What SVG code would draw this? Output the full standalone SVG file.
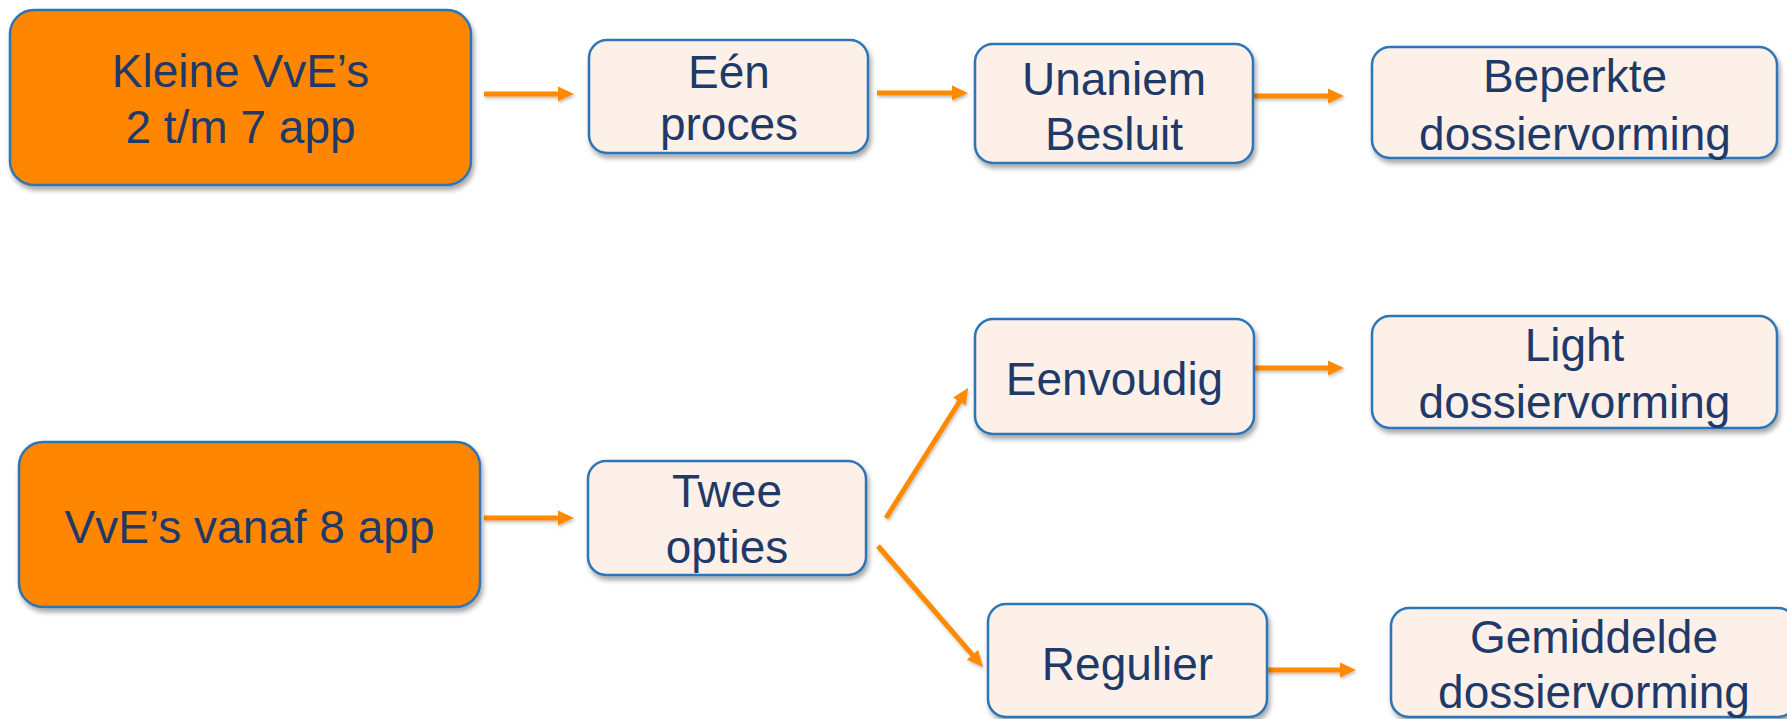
<svg xmlns="http://www.w3.org/2000/svg" width="1787" height="719" viewBox="0 0 1787 719">
  <style>
    .box { fill: #FDF0E9; stroke: #2E74B5; stroke-width: 2.5; filter: url(#shadow); }
    .main { fill: #FF8600; stroke: #2E74B5; stroke-width: 2.5; filter: url(#shadow); }
    .lbl { font-family: "Liberation Sans", Arial, sans-serif; font-size: 46px; fill: #1F3A68; text-anchor: middle; }
    .arrow { stroke: #FF8A00; stroke-width: 5; fill: none; marker-end: url(#head); }
  </style>
  <defs>
    <filter id="shadow" x="-10%" y="-10%" width="120%" height="130%">
      <feDropShadow dx="2" dy="4" stdDeviation="2.5" flood-color="#000" flood-opacity="0.35"/>
    </filter>
    <filter id="ashadow" filterUnits="userSpaceOnUse" x="0" y="0" width="1787" height="719">
      <feDropShadow dx="1" dy="2" stdDeviation="1.5" flood-color="#000" flood-opacity="0.25"/>
    </filter>
    <marker id="head" viewBox="0 0 16 16" markerWidth="16" markerHeight="16" refX="6" refY="8" orient="auto" markerUnits="userSpaceOnUse">
      <path d="M0,0.5 L16,8 L0,15.5 z" fill="#FF8A00"/>
    </marker>
  </defs>
  <rect width="1787" height="719" fill="#FFFFFF"/>

  <g id="connectors" filter="url(#ashadow)">
    <line class="arrow" x1="484" y1="94" x2="564" y2="94"/>
    <line class="arrow" x1="877" y1="93" x2="958" y2="93"/>
    <line class="arrow" x1="1254" y1="96" x2="1334" y2="96"/>
    <line class="arrow" x1="484" y1="518" x2="564" y2="518"/>
    <line class="arrow" x1="1254" y1="368" x2="1334" y2="368"/>
    <line class="arrow" x1="1267" y1="670" x2="1346" y2="670"/>
    <line class="arrow" x1="886" y1="518" x2="962.7" y2="396.5"/>
    <line class="arrow" x1="878" y1="546" x2="976.4" y2="659.4"/>
  </g>

  <g id="node-kleine">
    <rect class="main" x="10" y="10" width="461" height="175" rx="24"/>
    <text class="lbl" x="240.5" y="87">Kleine VvE’s</text>
    <text class="lbl" x="240.5" y="143">2 t/m 7 app</text>
  </g>
  <g id="node-een-proces">
    <rect class="box" x="589" y="40" width="279" height="113" rx="18"/>
    <text class="lbl" x="729" y="88">Eén</text>
    <text class="lbl" x="729" y="140">proces</text>
  </g>
  <g id="node-unaniem">
    <rect class="box" x="975" y="44" width="278" height="119" rx="18"/>
    <text class="lbl" x="1114" y="95">Unaniem</text>
    <text class="lbl" x="1114" y="150">Besluit</text>
  </g>
  <g id="node-beperkte">
    <rect class="box" x="1372" y="47" width="405" height="111" rx="18"/>
    <text class="lbl" x="1575" y="92">Beperkte</text>
    <text class="lbl" x="1575" y="150">dossiervorming</text>
  </g>

  <g id="node-vanaf8">
    <rect class="main" x="19" y="442" width="461" height="165" rx="24"/>
    <text class="lbl" x="249.5" y="543">VvE’s vanaf 8 app</text>
  </g>
  <g id="node-twee-opties">
    <rect class="box" x="588" y="461" width="278" height="114" rx="18"/>
    <text class="lbl" x="727" y="507">Twee</text>
    <text class="lbl" x="727" y="563">opties</text>
  </g>
  <g id="node-eenvoudig">
    <rect class="box" x="975" y="319" width="279" height="115" rx="18"/>
    <text class="lbl" x="1114.5" y="395">Eenvoudig</text>
  </g>
  <g id="node-light">
    <rect class="box" x="1372" y="316" width="405" height="112" rx="18"/>
    <text class="lbl" x="1574.5" y="361">Light</text>
    <text class="lbl" x="1574.5" y="418">dossiervorming</text>
  </g>
  <g id="node-regulier">
    <rect class="box" x="988" y="604" width="279" height="113" rx="18"/>
    <text class="lbl" x="1127.5" y="680">Regulier</text>
  </g>
  <g id="node-gemiddelde">
    <rect class="box" x="1391" y="608" width="405" height="109" rx="18"/>
    <text class="lbl" x="1594" y="653">Gemiddelde</text>
    <text class="lbl" x="1594" y="708">dossiervorming</text>
  </g>
</svg>
